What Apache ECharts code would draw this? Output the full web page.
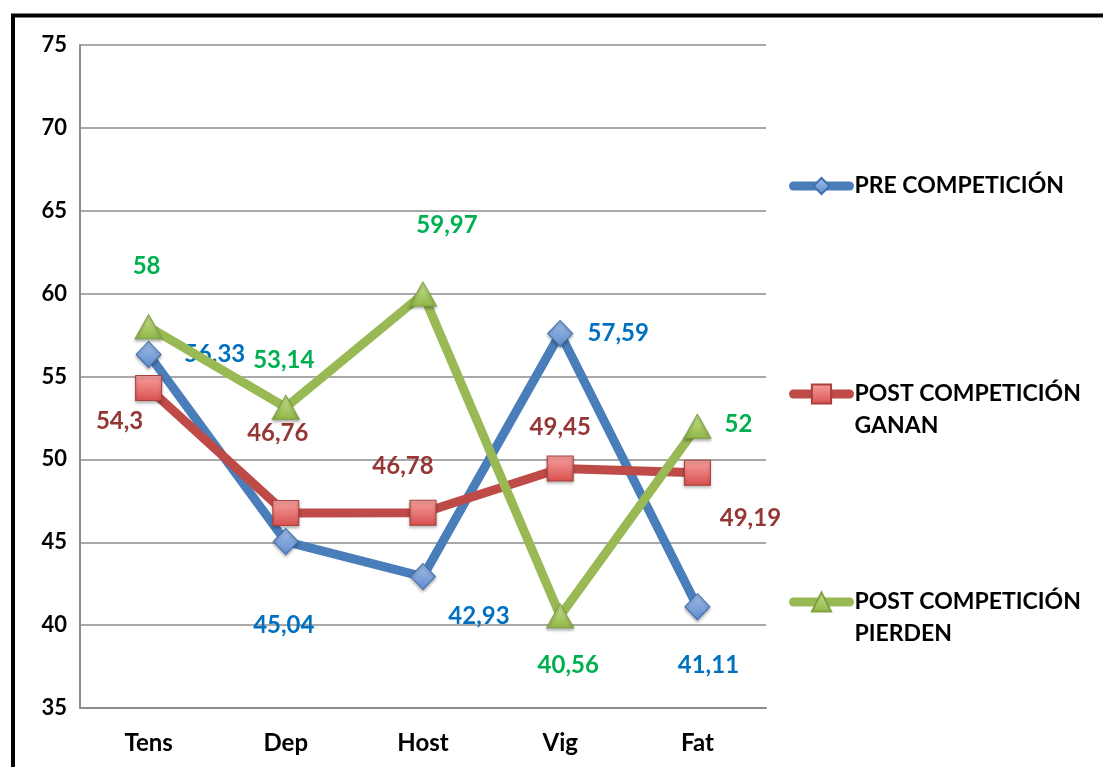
<!DOCTYPE html>
<html>
<head>
<meta charset="utf-8">
<script src="https://cdn.jsdelivr.net/npm/echarts@6/dist/echarts.min.js"></script>
<style>
  html, body { margin: 0; padding: 0; background: #fff; }
  #chart { width: 1103px; height: 767px; }
</style>
</head>
<body>
<div id="chart"></div>
<script>
// Categories and series values
const categories = ['Tens', 'Dep', 'Host', 'Vig', 'Fat'];
const preCompeticion = [56.33, 45.04, 42.93, 57.59, 41.11];
const postGanan = [54.3, 46.76, 46.78, 49.45, 49.19];
const postPierden = [58, 53.14, 59.97, 40.56, 52];
const seriesNames = ['PRE COMPETICIÓN', 'POST COMPETICIÓN GANAN', 'POST COMPETICIÓN PIERDEN'];
const yTicks = { min: 35, max: 75, step: 5 };

// Where each value label sits relative to its marker (pixels)
const labelOffsets = [
  [[66, 0], [-2, 84], [56, 40], [58, 0], [11, 59]],
  [[-29, 33], [-8, -80], [-20, -46], [0, -41], [53, 45]],
  [[-2, -61], [-2, -47], [24, -69], [8, 49], [41, -2]]
];
const labelColors = ['#0070C0', '#953735', '#00B050'];
const lineColors = ['#4A7EBB', '#BE4B48', '#98B954'];
const symbols = ['diamond', 'rect', 'triangle'];
const symbolSizes = [[25, 26], [26, 25], [27, 24]];
// legend icon height; the marker drawn on the legend line is 80% of it
const legendItemHeights = [20, 24, 24];
const symbolFills = [
  ['#A3C0EA', '#5F8BCB'],
  ['#F6A1A0', '#D9504E'],
  ['#C9E48F', '#8FB547']
];
const symbolBorders = ['#3F6EAE', '#A9403D', '#7FA043'];

const fontFamily = 'Lato, "Open Sans", sans-serif';
const fmt = v => String(v).replace('.', ',');

function symbolStyle(idx) {
  return {
    color: {
      type: 'linear', x: 0, y: 0, x2: 0, y2: 1,
      colorStops: [
        { offset: 0, color: symbolFills[idx][0] },
        { offset: 1, color: symbolFills[idx][1] }
      ]
    },
    borderColor: symbolBorders[idx],
    borderWidth: 1,
    shadowColor: 'rgba(0,0,0,0.3)',
    shadowBlur: 3,
    shadowOffsetY: 2
  };
}

function buildSeries(idx, values) {
  return {
    name: seriesNames[idx],
    type: 'line',
    data: values.map((v, i) => ({
      value: v,
      label: { offset: labelOffsets[idx][i] }
    })),
    symbol: symbols[idx],
    symbolSize: symbolSizes[idx],
    lineStyle: { color: lineColors[idx], width: 9, cap: 'round', join: 'round' },
    itemStyle: symbolStyle(idx),
    label: {
      show: true,
      position: 'inside',
      align: 'center',
      verticalAlign: 'middle',
      formatter: p => fmt(p.value),
      color: labelColors[idx],
      fontFamily: fontFamily,
      fontWeight: 'bold',
      fontSize: 24
    },
    emphasis: { disabled: true },
    z: 2 + idx
  };
}

// One legend per series so each entry can sit at its own height;
// a leading blank line keeps the icon level with the first text line.
function buildLegend(idx, top) {
  return {
    data: [seriesNames[idx]],
    left: 784,
    top: top,
    orient: 'vertical',
    itemWidth: 56,
    itemHeight: legendItemHeights[idx],
    selectedMode: false,
    lineStyle: { width: 9, cap: 'round' },
    formatter: name => idx === 0 ? name : ' \n' + name.replace('COMPETICIÓN ', 'COMPETICIÓN\n'),
    textStyle: {
      color: '#000',
      fontFamily: fontFamily,
      fontWeight: 'bold',
      fontSize: 23,
      lineHeight: 32
    }
  };
}

const chart = echarts.init(document.getElementById('chart'), null, { renderer: 'canvas' });
chart.setOption({
  animation: false,
  backgroundColor: '#fff',
  grid: { left: 80, right: 337, top: 45, bottom: 59 },
  xAxis: {
    type: 'category',
    data: categories,
    boundaryGap: true,
    axisLine: { show: true, lineStyle: { color: '#8C8C8C', width: 2 } },
    axisTick: { show: false },
    axisLabel: {
      color: '#000', fontFamily: fontFamily, fontWeight: 'bold', fontSize: 24, margin: 23
    }
  },
  yAxis: {
    type: 'value',
    min: yTicks.min, max: yTicks.max, interval: yTicks.step,
    axisLine: { show: true, lineStyle: { color: '#8C8C8C', width: 2 } },
    axisTick: { show: false },
    splitLine: { show: true, lineStyle: { color: '#8C8C8C', width: 1.5 } },
    axisLabel: {
      color: '#000', fontFamily: fontFamily, fontWeight: 'bold', fontSize: 22, margin: 13
    }
  },
  legend: [buildLegend(0, 165), buildLegend(1, 341), buildLegend(2, 549)],
  series: [
    buildSeries(0, preCompeticion),
    buildSeries(1, postGanan),
    buildSeries(2, postPierden)
  ],
  graphic: [{
    type: 'polyline',
    shape: { points: [[13, 767], [13, 15.5], [1103, 15.5]] },
    style: { stroke: '#000', lineWidth: 4, fill: null },
    silent: true
  }]
});
</script>
</body>
</html>
